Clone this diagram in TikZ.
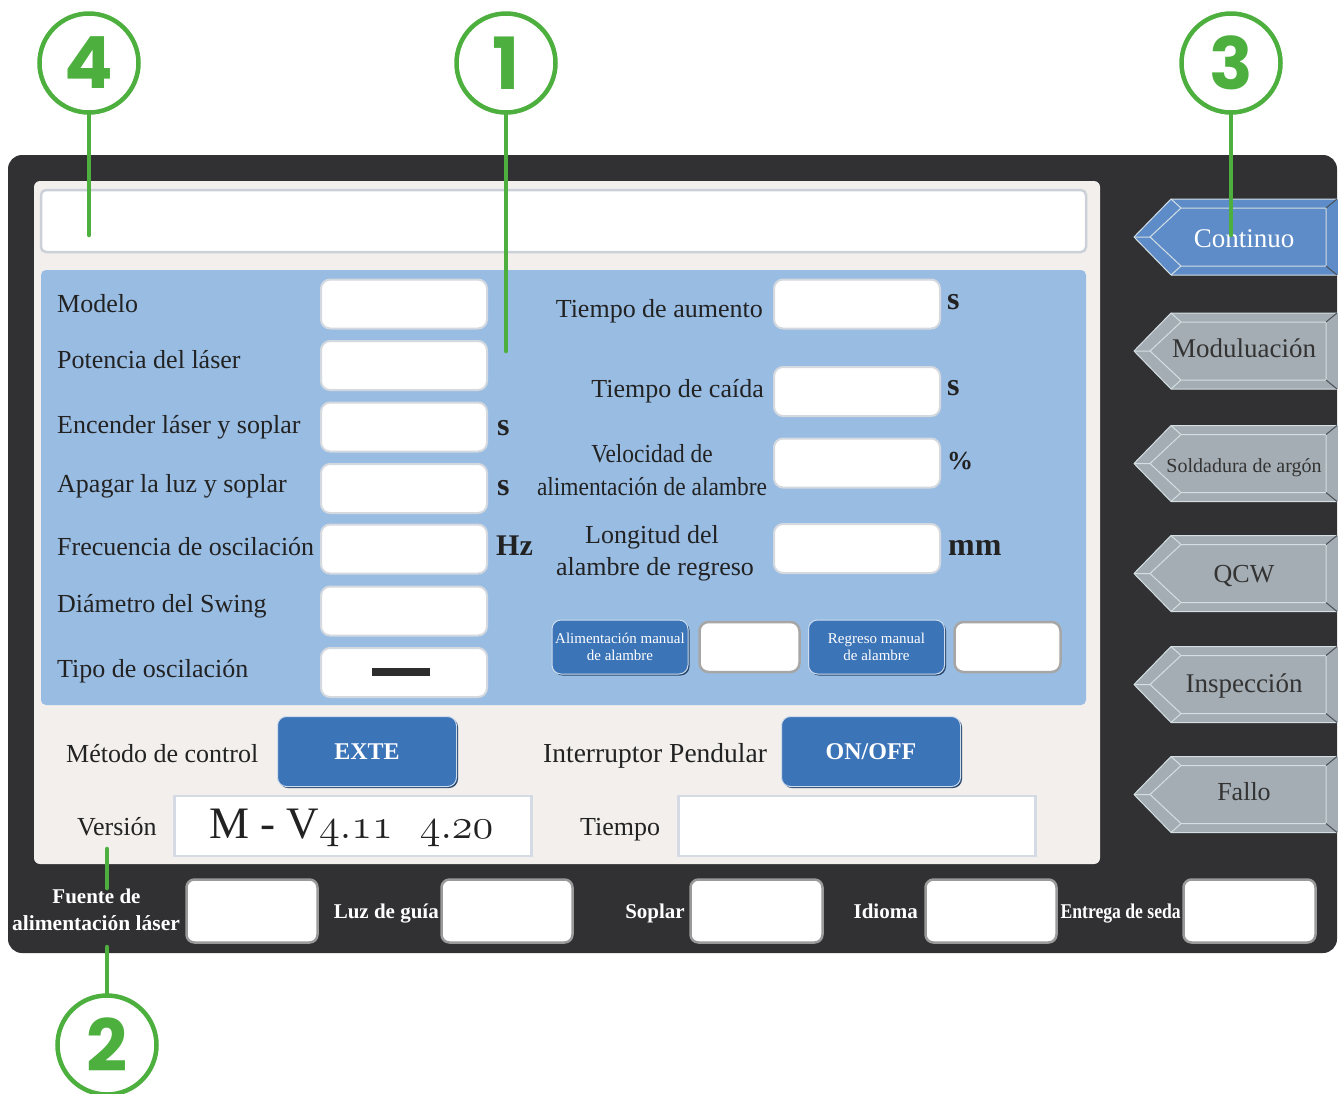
\documentclass[tikz,border=0pt]{standalone}
\usepackage{fontspec}
\usepackage{graphicx}
\setmainfont{Liberation Serif}
\newfontfamily\callfont{Poppins}
\usetikzlibrary{shadows}

\definecolor{housing}{HTML}{313133}
\definecolor{panel}{HTML}{F2EFEC}
\definecolor{bluepanel}{HTML}{99BCE3}
\definecolor{fieldline}{HTML}{D4D8DF}
\definecolor{barline}{HTML}{CCD1D9}
\definecolor{boxline}{HTML}{D5DBE4}
\definecolor{smallline}{HTML}{A6A6A6}
\definecolor{keyline}{HTML}{9A9A9A}
\definecolor{btnblue}{HTML}{3C74B8}
\definecolor{btnshade}{HTML}{27466E}
\definecolor{tabblue}{HTML}{5E8CC8}
\definecolor{tabgray}{HTML}{A4ADB3}
\definecolor{tabline}{HTML}{D3DFE3}
\definecolor{tabdark}{HTML}{4A4F55}
\definecolor{tabtext}{HTML}{333333}
\definecolor{ink}{HTML}{222222}
\definecolor{callgreen}{HTML}{4CAF3E}

\newcommand{\fs}[2]{\fontsize{#1}{#2}\selectfont}
% old-style figures taken from the math italic font
\newcommand{\osnum}[1]{\scalebox{1.7}{\fontencoding{OML}\fontfamily{cmm}\fontseries{m}\fontshape{it}\fontsize{24.88}{30}\selectfont #1}}

% mode tab: name, centre y, text baseline y, face colour, text colour, text size, label
\newcommand{\modetab}[7]{%
  \fill[#4] (1338,#2-38) -- (1171,#2-38) -- (1134,#2) -- (1171,#2+38) -- (1338,#2+38) -- cycle;
  \draw[tabline, line width=1pt, line join=round] (1338,#2-38) -- (1171,#2-38) -- (1134,#2) -- (1171,#2+38) -- (1338,#2+38);
  \draw[tabline, line width=1pt, line join=round] (1326,#2-29) -- (1181,#2-29) -- (1150,#2) -- (1181,#2+29) -- (1326,#2+29) -- cycle;
  \draw[tabline, line width=1pt] (1171,#2-38) -- (1181,#2-29) (1134,#2) -- (1150,#2) (1171,#2+38) -- (1181,#2+29);
  \draw[tabdark, line width=1pt] (1337,#2-38) -- (1326,#2-29) (1337,#2+38) -- (1326,#2+29);
  \node[anchor=base, inner sep=0pt, text=#5, font=\fs{#6}{#6}] (#1) at (1244,#3) {#7};
}

\begin{document}
\begin{tikzpicture}[x=1pt, y=-1pt,
  field/.style={draw=fieldline, line width=2pt, fill=white, rounded corners=9pt,
    minimum width=166pt, minimum height=49pt, inner sep=0pt},
  smallbox/.style={draw=smallline, line width=2.5pt, fill=white, rounded corners=9pt, inner sep=0pt},
  keybox/.style={draw=keyline, line width=2.5pt, fill=white, rounded corners=8pt,
    minimum width=131pt, minimum height=63pt, inner sep=0pt},
  readout/.style={draw=boxline, line width=2.5pt, fill=white, minimum width=357pt, minimum height=60pt, inner sep=0pt},
  lbl/.style={text=ink, font=\fs{26}{30}, inner sep=0pt},
  unit/.style={text=ink, font=\bfseries\fs{32}{36}, inner sep=0pt, anchor=base west},
  keylbl/.style={text=white, font=\bfseries\fs{21}{26}, inner sep=0pt},
  btn/.style={fill=btnblue, draw=white!75!btnblue, line width=1pt, rounded corners=9pt, inner sep=0pt,
    text=white, drop shadow={shadow xshift=1.5pt, shadow yshift=-1.5pt, fill=btnshade, opacity=1}},
  ring/.style={circle, draw=callgreen, line width=4.5pt, minimum size=99pt, inner sep=0pt},
  ringnum/.style={inner sep=0pt, text=callgreen, font=\callfont\bfseries\fs{72}{80}},
  leader/.style={draw=callgreen, line width=4.5pt, line cap=round}]

\useasboundingbox (0,0) rectangle (1338,1093);

% housing and display panels
\fill[housing, rounded corners=14pt] (8,155) rectangle (1337,953);
\fill[panel, rounded corners=6pt] (34,181) rectangle (1100,864);
\node[draw=barline, fill=white, line width=2.5pt, rounded corners=5pt, minimum width=1045pt,
  minimum height=62pt, inner sep=0pt] (titlebar) at (563.5,221) {};
\fill[bluepanel, rounded corners=5pt] (41,270) rectangle (1086,705);

% left column of parameters
\foreach \n/\y in {1/304, 2/365.5, 3/427, 4/488.5, 5/549, 6/611, 7/672.5}
  \node[field] (lf\n) at (404,\y) {};
\node[lbl, anchor=base west] (lmodel) at (57,312) {Modelo};
\node[lbl, anchor=base west] (lpower) at (57,368) {Potencia del láser};
\node[lbl, anchor=base west] (lon) at (57,433) {Encender láser y soplar};
\node[lbl, anchor=base west] (loff) at (57,492) {Apagar la luz y soplar};
\node[lbl, anchor=base west] (lfreq) at (57,555) {Frecuencia de oscilación};
\node[lbl, anchor=base west] (ldiam) at (57,612) {Diámetro del Swing};
\node[lbl, anchor=base west] (ltype) at (57,677) {Tipo de oscilación};
\node[fill=ink!95, minimum width=58pt, minimum height=8pt, inner sep=0pt] (typedash) at (401,672) {};
\node[unit] (uon) at (497,435) {s};
\node[unit] (uoff) at (497,495) {s};
\node[unit, font=\bfseries\fs{30}{34}] (ufreq) at (496,555) {Hz};

% right column of parameters
\node[field] (rf1) at (857,304) {};
\node[field] (rf2) at (857,391.5) {};
\node[field] (rf3) at (857,463) {};
\node[field] (rf4) at (857,548.5) {};
\node[lbl, anchor=base east] (lrise) at (763,317) {Tiempo de aumento};
\node[lbl, anchor=base east] (lfall) at (764,397) {Tiempo de caída};
\node[lbl, anchor=base] (lspeedA) at (652,462) {\scalebox{0.9}[1]{Velocidad de}};
\node[lbl, anchor=base] (lspeedB) at (652,495) {\scalebox{0.9}[1]{alimentación de alambre}};
\node[lbl, anchor=base] (lbackA) at (652,543) {Longitud del};
\node[lbl, anchor=base] (lbackB) at (655,575) {alambre de regreso};
\node[unit] (urise) at (947,309) {s};
\node[unit] (ufall) at (947,395) {s};
\node[unit, font=\bfseries\fs{26}{30}] (uspeed) at (947,469) {\%};
\node[unit] (uback) at (948,555) {mm};

% manual wire buttons
\node[btn, minimum width=136pt, minimum height=54pt, align=center, font=\fs{15}{17}] (feedbtn) at (620,647)
  {Alimentación manual\\de alambre};
\node[smallbox, minimum width=100pt, minimum height=50pt] (feedval) at (749.5,647) {};
\node[btn, minimum width=136pt, minimum height=54pt, align=center, font=\fs{15}{17}] (backbtn) at (876.5,647)
  {Regreso manual\\de alambre};
\node[smallbox, minimum width=106pt, minimum height=50pt] (backval) at (1007.5,647) {};

% control row
\node[lbl, anchor=base west] (lctrl) at (66,762) {Método de control};
\node[btn, minimum width=179pt, minimum height=70pt, font=\bfseries\fs{24}{28}] (exte) at (367,751.5) {EXTE};
\node[lbl, anchor=base west, font=\fs{27.5}{30}] (lswing) at (543,762) {Interruptor Pendular};
\node[btn, minimum width=179pt, minimum height=70pt, font=\bfseries\fs{24}{28}] (onoff) at (871,751.5) {ON/OFF};

% version and time readouts
\node[lbl, anchor=base west] (lver) at (77,835) {Versión};
\node[readout] (verbox) at (353,826) {};
\node[anchor=base west, inner sep=0pt, text=ink, font=\fs{45}{50}] (vertext) at (209,838)
  {M - V\osnum{4\char58 11}\hspace{27pt}\osnum{4\char58 20}};
\node[lbl, anchor=base west] (ltime) at (580,835) {Tiempo};
\node[readout] (timebox) at (857,826) {};

% keys along the bottom of the housing
\node[keylbl, anchor=base] (fuenteA) at (96.5,903) {Fuente de};
\node[keylbl, anchor=base, font=\bfseries\fs{21.5}{26}] (fuenteB) at (96,930) {alimentación láser};
\node[keybox] (kpower) at (252,911) {};
\node[keylbl, anchor=base east] (lguide) at (439,918) {Luz de guía};
\node[keybox] (kguide) at (507,911) {};
\node[keylbl, anchor=base east] (lblow) at (685,918) {Soplar};
\node[keybox, minimum width=132pt] (kblow) at (756.5,911) {};
\node[keylbl, anchor=base east] (llang) at (918,918) {Idioma};
\node[keybox] (klang) at (991,911) {};
\node[keylbl, anchor=base east] (lwire) at (1181,918) {\scalebox{0.84}[1]{Entrega de seda}};
\node[keybox, minimum width=132pt] (kwire) at (1249.5,911) {};

% mode tabs on the right
\begin{scope}
  \clip (0,0) rectangle (1338,1093);
  \modetab{tcont}{237}{247}{tabblue}{white}{27}{Continuo}
  \modetab{tmod}{351}{357}{tabgray}{tabtext}{27}{Moduluación}
  \modetab{targ}{463.5}{472}{tabgray}{tabtext}{20}{Soldadura de argón}
  \modetab{tqcw}{573.5}{582}{tabgray}{tabtext}{26}{QCW}
  \modetab{tins}{684.5}{692}{tabgray}{tabtext}{27}{Inspección}
  \modetab{tfail}{794.5}{800}{tabgray}{tabtext}{26}{Fallo}
\end{scope}

% numbered callouts
\node[ring] (c1) at (506,63) {};
\node[ring] (c2) at (107,1045) {};
\node[ring] (c3) at (1231,63) {};
\node[ring] (c4) at (89,63) {};
\node[ringnum] (n1) at (c1) {1};
\node[ringnum] (n2) at (c2) {2};
\node[ringnum] (n3) at (c3) {3};
\node[ringnum] (n4) at (c4) {4};
\coordinate (p1) at (506,351);
\coordinate (p3) at (1231,235);
\coordinate (p4) at (89,235);
\coordinate (p2) at (107,849);
\draw[leader] (c1.south) -- (p1);
\draw[leader] (c3.south) -- (p3);
\draw[leader] (c4.south) -- (p4);
\draw[leader] (c2.north) -- ([yshift=-17pt]c2.north |- fuenteB.base);
\draw[leader] ([yshift=15pt]c2.north |- fuenteA.base) -- (p2);
\end{tikzpicture}
\end{document}
